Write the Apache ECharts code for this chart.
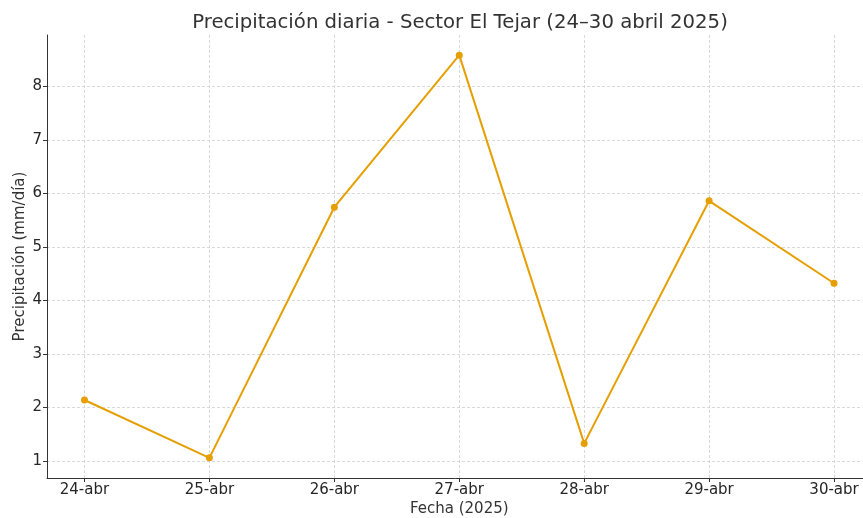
<!DOCTYPE html>
<html>
<head>
<meta charset="utf-8">
<script src="https://cdn.jsdelivr.net/npm/echarts@6/dist/echarts.min.js"></script>
<style>
  html, body { margin: 0; padding: 0; background: #fff; }
  #chart { width: 863px; height: 518px; }
</style>
</head>
<body>
<div id="chart"></div>
<script>
// datos
var fechas = ['24-abr', '25-abr', '26-abr', '27-abr', '28-abr', '29-abr', '30-abr'];
var precipitacion = [2.14, 1.06, 5.74, 8.58, 1.33, 5.86, 4.32];
var y_ticks = [1, 2, 3, 4, 5, 6, 7, 8];
var x_ticks = [0, 1, 2, 3, 4, 5, 6];

var fuente = 'DejaVu Sans';

//armar puntos x,y
var puntos = [];
for (var i in precipitacion) {
    puntos.push([Number(i), precipitacion[i]]);
}

var chart = echarts.init(document.getElementById('chart'));
var option = {
    animation: false,
    textStyle: { fontFamily: fuente },
    title: {
        text: 'Precipitación diaria - Sector El Tejar (24–30 abril 2025)',
        left: 455,
        top: 8,
        textAlign: 'center',
        textStyle: { fontFamily: fuente, fontSize: 19.7, fontWeight: 'normal', color: '#333' }
    },
    grid: {
        left: 47,
        top: 35,
        width: 824.5,
        bottom: 40,
        containLabel: false,
        outerBoundsMode: 'none'
    },
    xAxis: {
        type: 'value',
        min: -0.3,
        max: 6.3,
        name: 'Fecha (2025)',
        nameLocation: 'middle',
        nameGap: 24,
        nameMoveOverlap: false,
        nameTextStyle: { fontFamily: fuente, fontSize: 15, color: '#333' },
        axisLine: { show: true, onZero: false, lineStyle: { color: '#333', width: 1 } },
        axisTick: { show: true, customValues: x_ticks, length: 4, lineStyle: { color: '#333' } },
        axisLabel: {
            customValues: x_ticks,
            fontSize: 15,
            color: '#262626',
            margin: 5,
            formatter: function (v) { return fechas[Math.round(v)]; }
        },
        splitLine: { show: true, lineStyle: { color: '#cfcfcf', type: [3, 2], width: 0.8 } }
    },
    yAxis: {
        type: 'value',
        min: 0.684,
        max: 8.956,
        name: 'Precipitación (mm/día)',
        nameLocation: 'middle',
        nameGap: 19,
        nameRotate: 90,
        nameMoveOverlap: false,
        nameTextStyle: { fontFamily: fuente, fontSize: 15, color: '#333' },
        axisLine: { show: true, onZero: false, lineStyle: { color: '#333', width: 1 } },
        axisTick: { show: true, customValues: y_ticks, length: 4, lineStyle: { color: '#333' } },
        axisLabel: { customValues: y_ticks, fontSize: 15, color: '#262626', margin: 5 },
        splitLine: { show: true, lineStyle: { color: '#cfcfcf', type: [3, 2], width: 0.8 } }
    },
    series: [
        {
            name: 'Precipitación',
            type: 'line',
            data: puntos,
            symbol: 'circle',
            symbolSize: 7,
            lineStyle: { color: '#E69F00', width: 2 },
            itemStyle: { color: '#E69F00' }
        }
    ]
};
chart.setOption(option, true);
</script>
</body>
</html>
